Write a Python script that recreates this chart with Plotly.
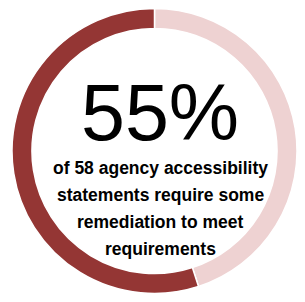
import plotly.graph_objects as go

labels = ["Other", "Require remediation"]
values = [45, 55]
colors = ["#eed2d2", "#943634"]
big_text = "55%"
sub_lines = ["of 58 agency accessibility", "statements require some",
             "remediation to meet", "requirements"]

# the page adds an 8px body margin, so the figure is sized to fill the window exactly
W, H = 289, 286

def py(v):
    return 1 - v / H

def px(v):
    return v / W

fig = go.Figure(go.Pie(
    labels=labels, values=values, hole=0.86, sort=False,
    direction="clockwise", rotation=0,
    marker=dict(colors=colors, line=dict(color="white", width=1.5)),
    textinfo="none", textposition="none", hoverinfo="label+percent", showlegend=False,
    domain=dict(x=[px(4), 1], y=[0, 1]),
))

fig.add_annotation(text=big_text, x=px(152), y=py(104.6), xref="paper", yref="paper",
                   xanchor="center", yanchor="middle", showarrow=False,
                   borderpad=0, borderwidth=0,
                   font=dict(family="Liberation Sans", size=79, color="black", weight=400))
line_y = [160, 187, 214, 241]
for txt, yy in zip(sub_lines, line_y):
    fig.add_annotation(text=txt, x=px(152), y=py(yy), xref="paper", yref="paper",
                       xanchor="center", yanchor="middle", showarrow=False,
                       borderpad=0, borderwidth=0,
                       font=dict(family="Liberation Sans", size=17.5, color="black", weight=700))

fig.update_layout(width=W, height=H, margin=dict(l=0, r=0, t=0, b=0),
                  paper_bgcolor="white", plot_bgcolor="white")
fig.write_html("out.html")
